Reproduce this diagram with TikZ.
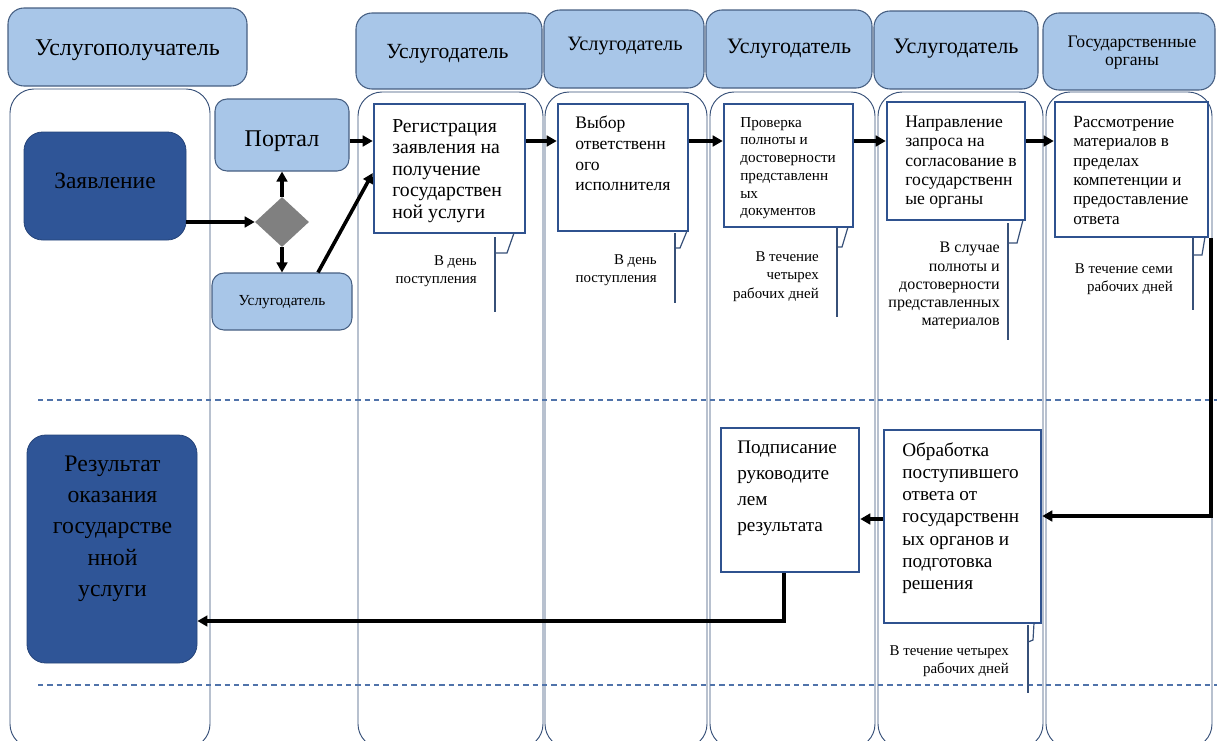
\documentclass[tikz,border=0pt]{standalone}
\usepackage{fontspec}
\setmainfont{Liberation Serif}
\usetikzlibrary{arrows.meta,shapes.geometric,fit,calc}
\definecolor{hdrfill}{RGB}{168,198,232}
\definecolor{hdrdraw}{RGB}{70,95,130}
\definecolor{lanedraw}{RGB}{55,80,120}
\definecolor{darkfill}{RGB}{47,85,151}
\definecolor{stepdraw}{RGB}{47,82,143}
\definecolor{dashcol}{RGB}{80,115,170}
\definecolor{diafill}{RGB}{128,128,128}
\begin{document}
\begin{tikzpicture}[x=0.75pt,y=-0.75pt,
  hdr/.style={draw=hdrdraw, fill=hdrfill, line width=0.8pt, rounded corners=12pt, inner sep=0pt},
  lane/.style={draw=lanedraw, line width=0.7pt, rounded corners=18pt, inner sep=0pt},
  darkbox/.style={draw=darkfill!80!black, fill=darkfill, line width=0.6pt, rounded corners=14pt, inner sep=0pt},
  lightbox/.style={draw=hdrdraw, fill=hdrfill, line width=0.8pt, rounded corners=9pt, inner sep=0pt},
  stepbox/.style={draw=stepdraw, fill=white, line width=1.9pt, inner sep=0pt},
  label/.style={anchor=base, inner sep=0pt},
  steptext/.style={anchor=north west, align=left, inner sep=0pt},
  notetext/.style={anchor=north east, align=right, inner sep=0pt, font=\fontsize{11.2}{14.2}\selectfont},
  bar/.style={draw=lanedraw, line width=0.9pt},
  arr/.style={line width=2.7pt, -{Triangle[length=7.5pt,width=8pt]}},
  sep/.style={draw=dashcol, line width=0.8pt, dash pattern=on 4pt off 3pt}
]
\useasboundingbox (0,0) rectangle (1217,740);
% lanes
\node[lane, fit={(10,89) (210,748)}] (l1) {};
\node[lane, fit={(358,92) (543,748)}] (la) {};
\node[lane, fit={(545,92) (707,748)}] (lb) {};
\node[lane, fit={(710,92) (875,748)}] (lc) {};
\node[lane, fit={(878,92) (1043,748)}] (ld) {};
\node[lane, fit={(1046,92) (1212,748)}] (le) {};
% headers
\node[hdr, fit={(8,8) (247,86)}] (h1) {};
\node[hdr, fit={(356,13) (542,89)}] (h2) {};
\node[hdr, fit={(544,10) (704,88)}] (h3) {};
\node[hdr, fit={(706,10) (872,88)}] (h4) {};
\node[hdr, fit={(874,11) (1038,89)}] (h5) {};
\node[hdr, fit={(1043,13) (1215,90)}] (h6) {};
\node[label, font=\fontsize{18}{21}\selectfont] (h1t) at (127.5,55) {Услугополучатель};
\node[label, font=\fontsize{16.2}{19}\selectfont] (h2t) at (447.5,58) {Услугодатель};
\node[label, font=\fontsize{15.3}{18}\selectfont] (h3t) at (625,50) {Услугодатель};
\node[label, font=\fontsize{16.5}{19}\selectfont] (h4t) at (789,53) {Услугодатель};
\node[label, font=\fontsize{16.6}{19}\selectfont] (h5t) at (956,53) {Услугодатель};
\node[anchor=center, align=center, inner sep=0pt, font=\fontsize{13.2}{13}\selectfont] (h6t) at (1132,52.5) {Государственные\\органы};
% separators
\coordinate (s1a) at (38,400); \coordinate (s1b) at (1217,400);
\coordinate (s2a) at (38,685); \coordinate (s2b) at (1217,685);
\draw[sep] (s1a) -- (s1b);
\draw[sep] (s2a) -- (s2b);
% left lane
\node[darkbox, fit={(24,132) (186,240)}] (zay) {};
\node[label, font=\fontsize{17.6}{20}\selectfont] (zayT) at (105,188) {Заявление};
\node[darkbox, fit={(27,435) (197,663)}] (rez) {};
\node[anchor=north, align=center, inner sep=0pt, font=\fontsize{17.8}{23.3}\selectfont] (rezT) at (112.5,456) {Результат\\оказания\\государстве\\нной\\услуги};
% portal column
\node[lightbox, fit={(215,99) (349,171)}] (portal) {};
\node[label, font=\fontsize{18}{21}\selectfont] (portalT) at (282,146) {Портал};
\node[diamond, fill=diafill, minimum width=40.5pt, minimum height=37.5pt, inner sep=0pt] (dia) at (282,222) {};
\node[lightbox, fit={(212,273) (352,330)}] (usl) {};
\node[label, font=\fontsize{11.5}{13}\selectfont] (uslT) at (282,305) {Услугодатель};
% step boxes
\node[stepbox, fit={(374,104) (525,233)}] (reg) {};
\node[steptext, font=\fontsize{14.8}{16.1}\selectfont] (regT) at (392,119) {Регистрация\\заявления на\\получение\\государствен\\ной услуги};
\node[stepbox, fit={(558,104) (688,231)}] (vyb) {};
\node[steptext, font=\fontsize{13.2}{15.5}\selectfont] (vybT) at (575,116) {Выбор\\ответственн\\ого\\исполнителя};
\node[stepbox, fit={(724,104) (853,227)}] (prov) {};
\node[steptext, font=\fontsize{11.4}{13.3}\selectfont] (provT) at (740,117) {Проверка\\полноты и\\достоверности\\представленн\\ых\\документов};
\node[stepbox, fit={(887,102) (1025,220)}] (napr) {};
\node[steptext, font=\fontsize{13.2}{14.4}\selectfont] (naprT) at (905,116) {Направление\\запроса на\\согласование в\\государственн\\ые органы};
\node[stepbox, fit={(1055,102) (1208,237)}] (ras) {};
\node[steptext, font=\fontsize{12.8}{14.5}\selectfont] (rasT) at (1073,116) {Рассмотрение\\материалов в\\пределах\\компетенции и\\предоставление\\ответа};
\node[stepbox, fit={(884,430) (1041,623)}] (obr) {};
\node[steptext, font=\fontsize{14.4}{16.7}\selectfont] (obrT) at (902,442) {Обработка\\поступившего\\ответа от\\государственн\\ых органов и\\подготовка\\решения};
\node[stepbox, fit={(721,428) (859,572)}] (pod) {};
\node[steptext, font=\fontsize{14.4}{19.5}\selectfont] (podT) at (737,441) {Подписание\\руководите\\лем\\результата};
% notes
\node[notetext] (n1) at (477,255) {В день\\поступления};
\node[notetext] (n2) at (657,254) {В день\\поступления};
\node[notetext] (n3) at (819,251) {В течение\\четырех\\рабочих дней};
\node[notetext, font=\fontsize{12}{13.7}\selectfont] (n4) at (1000,242) {В случае\\полноты и\\достоверности\\представленных\\материалов};
\node[notetext] (n5) at (1173,263) {В течение семи\\рабочих дней};
\node[notetext] (n6) at (1009,645) {В течение четырех\\рабочих дней};
% callout bars
\draw[bar] (514,233) -- (507,253) -- (495,253);
\draw[bar] (495,237) -- (495,312);
\draw[bar] (687,231) -- (680,248) -- (675,248);
\draw[bar] (675,233) -- (675,303);
\draw[bar] (848,227) -- (842,247) -- (837,247);
\draw[bar] (837,228) -- (837,317);
\draw[bar] (1023,220) -- (1017,243) -- (1008,243);
\draw[bar] (1008,223) -- (1008,340);
\draw[bar] (1205,237) -- (1202,255) -- (1193,255);
\draw[bar] (1193,238) -- (1193,310);
\draw[bar] (1034,623) -- (1033,640) -- (1028,642);
\draw[bar] (1028,625) -- (1028,693);
% connectors
\coordinate (yrow) at (0,141);
\coordinate (ydiag) at (0,173);
\coordinate (yras) at (0,516);
\coordinate (yobr) at (0,519);
\coordinate (yrez) at (0,621);
\draw[arr] (zay.east |- dia.west) -- (dia.west);
\draw[arr] (dia.north) -- (portal.south);
\draw[arr] (dia.south) -- (usl.north);
\draw[arr] (portal.east |- yrow) -- (reg.west |- yrow);
\draw[arr] ($(usl.north)+(36,0)$) -- (reg.west |- ydiag);
\draw[arr] (reg.east |- yrow) -- (vyb.west |- yrow);
\draw[arr] (vyb.east |- yrow) -- (prov.west |- yrow);
\draw[arr] (prov.east |- yrow) -- (napr.west |- yrow);
\draw[arr] (napr.east |- yrow) -- (ras.west |- yrow);
\draw[arr] ($(ras.south east)+(2,0)$) |- (obr.east |- yras);
\draw[arr] (obr.west |- yobr) -- (pod.east |- yobr);
\draw[arr] ($(pod.south)+(-6,0)$) |- (rez.east |- yrez);
\end{tikzpicture}
\end{document}
